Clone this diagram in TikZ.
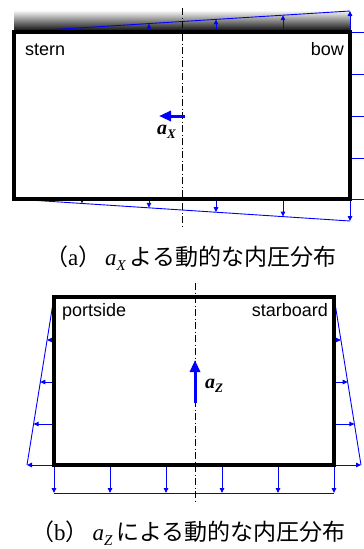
\documentclass[tikz,border=0pt]{standalone}
\usepackage{fontspec}
\setmainfont{Liberation Serif}
\setsansfont{Liberation Sans}
\newfontfamily\jpfont{Noto Sans CJK JP}
\usetikzlibrary{arrows.meta}

\tikzset{
  hull/.style={line width=3.5pt, draw=black},
  pline/.style={blue, line width=0.9pt},
  press/.style={pline, -{Triangle[length=5pt,width=4.5pt]}},
  accel/.style={blue, line width=3pt, -{Triangle[length=12pt,width=10pt]}},
  centre/.style={line width=0.8pt, dash pattern=on 7pt off 2.5pt on 1pt off 2.5pt},
  tag/.style={font=\sffamily\fontsize{18}{20}\selectfont, inner sep=0pt},
  sym/.style={font=\bfseries\itshape\fontsize{20}{22}\selectfont, inner sep=0pt},
  caption/.style={font=\fontsize{23}{25}\selectfont, inner sep=0pt, anchor=base west},
}
\newcommand{\subsym}[1]{\raisebox{-4pt}{\fontsize{13}{13}\selectfont #1}}
\newcommand{\capsub}[1]{\raisebox{-5pt}{\fontsize{15}{15}\selectfont\itshape #1}}

\begin{document}
\begin{tikzpicture}[x=1pt, y=-1pt]
    \useasboundingbox (0,0) rectangle (364,549);

    % (a) longitudinal tank
    \coordinate (sternTop) at (14,32);
    \coordinate (bowBot) at (350,199);
    \shade[top color=gray!8, bottom color=black] (14,11) rectangle (350,32);

    % Top and bottom pressure lines
    \draw[pline] (sternTop) -- (350,11);
    \draw[pline] (14,199) -- (350,221);
    \foreach \x/\y in {82/27.8, 149/23.6, 216/19.4, 283/15.2, 350/11}
        \draw[press] (\x,32) -- (\x,\y);
    \foreach \x/\y in {82/203.5, 149/207.8, 216/212.2, 283/216.6, 350/221}
        \draw[press] (\x,199) -- (\x,\y);

    % Bow side pressure (cut at the edge)
    \foreach \y in {32,74,116,158,199}
        \draw[pline] (350,\y) -- (364,\y);

    \draw[hull] (sternTop) rectangle (bowBot);
    \draw[centre] (182,8) -- (182,228);

    \node[tag, anchor=base west] (stern) at (25,55) {stern};
    \node[tag, anchor=base east] (bow) at (344,55) {bow};

    \draw[accel] (185,116) -- (159,116);
    \node[sym, anchor=base west] (aX) at (157,134) {a\subsym{X}};

    \node[caption] (capA) at (45,265)
        {{\jpfont （}a{\jpfont ）}\,{\itshape a}\capsub{X}\,{\jpfont よる動的な内圧分布}};

    % (b) transverse tank
    \coordinate (portTop) at (54,297);
    \coordinate (starBot) at (334,465);

    % Side pressure lines
    \draw[pline] (portTop) -- (27,465);
    \draw[pline] (334,297) -- (361,465);
    \foreach \y/\l/\r in {340/47.1/340.9, 382/40.3/347.7, 424/33.6/354.4, 465/27/361} {
        \draw[press] (54,\y) -- (\l,\y);
        \draw[press] (334,\y) -- (\r,\y);
    }

    % Bottom pressure
    \foreach \x in {54,110,166,222,278,334}
        \draw[press] (\x,465) -- (\x,493);
    \draw[pline] (54,493) -- (334,493);

    \draw[hull] (portTop) rectangle (starBot);
    \draw[centre] (195,283) -- (195,503);

    \node[tag, anchor=base west] (port) at (62,316) {portside};
    \node[tag, anchor=base east] (star) at (328,316) {starboard};

    \draw[accel] (195,403) -- (195,360);
    \node[sym, anchor=base west] (aZ) at (205,388) {a\subsym{Z}};

    \node[caption] (capB) at (31,540)
        {{\jpfont （}b{\jpfont ）}\,{\itshape a}\capsub{Z}\,{\jpfont による動的な内圧分布}};

\end{tikzpicture}
\end{document}
